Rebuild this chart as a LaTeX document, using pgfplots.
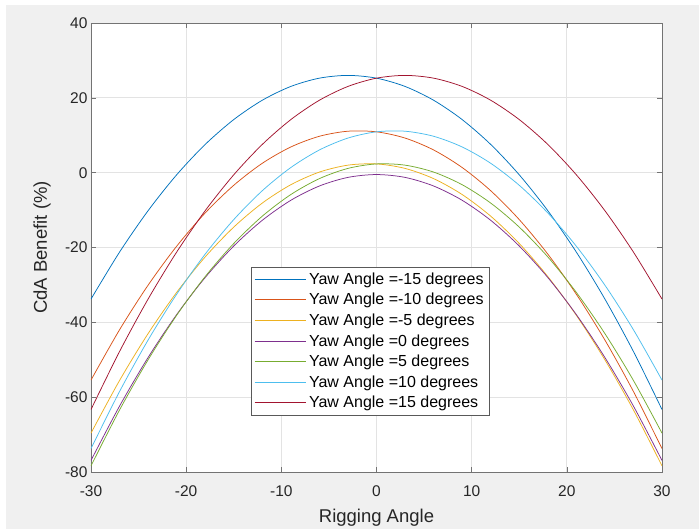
\documentclass[border=0pt]{standalone}
\usepackage{pgfplots}
\pgfplotsset{compat=1.18}
\usepackage{fontspec}
\setmainfont{Liberation Sans}
\definecolor{c1}{HTML}{0072BD}
\definecolor{c2}{HTML}{D95319}
\definecolor{c3}{HTML}{EDB120}
\definecolor{c4}{HTML}{7E2F8E}
\definecolor{c5}{HTML}{77AC30}
\definecolor{c6}{HTML}{4DBEEE}
\definecolor{c7}{HTML}{A2142F}
\definecolor{figbg}{HTML}{F0F0F0}
\definecolor{axcol}{HTML}{737373}
\definecolor{txtcol}{HTML}{262626}
\definecolor{legcol}{HTML}{595959}
\definecolor{gridcol}{HTML}{E3E3E3}
\begin{document}
\begin{tikzpicture}
\fill[white] (-91pt,-57pt) rectangle (608pt,472pt);
\fill[figbg] (-85pt,-57pt) rectangle (608pt,467pt);
\begin{axis}[
  at={(0pt,0pt)}, anchor=south west,
  scale only axis, width=571pt, height=449pt,
  xmin=-30, xmax=30, ymin=-80, ymax=40,
  xtick={-30,-20,...,30}, ytick={-80,-60,...,40},
  axis background/.style={fill=white},
  axis line style={axcol, line width=0.8pt},
  major tick style={axcol, line width=0.6pt},
  major tick length=5pt,
  tick align=inside,
  xtick pos=both, ytick pos=both,
  grid=major,
  major grid style={gridcol, line width=0.7pt},
  /pgf/number format/assume math mode=true,
  tick label style={font=\fontsize{15.5}{15.5}\selectfont, text=txtcol},
  xticklabel style={yshift=-10pt},
  xlabel={Rigging Angle}, ylabel={CdA Benefit (\%)},
  label style={font=\fontsize{18.5}{18.5}\selectfont, text=txtcol},
  xlabel style={at={(axis description cs:0.5,0)}, anchor=center, yshift=-46pt},
  ylabel style={at={([xshift=-49pt]axis description cs:0,0.5)}, anchor=center},
  legend cell align=left,
  legend image code/.code={\draw[#1, line width=1pt] (0pt,0pt) -- (51pt,0pt);},
  legend style={at={(0.280,0.457)}, anchor=north west, draw=legcol,
    fill=white, font=\fontsize{16}{16}\selectfont,
    nodes={inner ysep=3.75pt, inner xsep=3pt}},
  every axis plot/.append style={line width=0.75pt, smooth},
]
\addplot[c1] coordinates {(-30,-33.78) (-27,-21.23) (-24,-10.16) (-21,-0.57) (-18,7.55) (-15,14.19) (-12,19.36) (-9,23.05) (-6,25.26) (-3,26.00) (0,25.26) (3,23.05) (6,19.36) (9,14.19) (12,7.55) (15,-0.57) (18,-10.16) (21,-21.23) (24,-33.78) (27,-47.80) (30,-63.30)};
\addlegendentry{Yaw Angle =-15 degrees}
\addplot[c2] coordinates {(-30,-55.43) (-27,-41.99) (-24,-30.07) (-21,-19.66) (-18,-10.76) (-15,-3.37) (-12,2.51) (-9,6.87) (-6,9.73) (-3,11.08) (0,10.92) (3,9.25) (6,6.07) (9,1.38) (12,-4.82) (15,-12.54) (18,-21.76) (21,-32.49) (24,-44.73) (27,-58.49) (30,-73.75)};
\addlegendentry{Yaw Angle =-10 degrees}
\addplot[c3] coordinates {(-30,-69.61) (-27,-55.54) (-24,-43.01) (-21,-32.00) (-18,-22.51) (-15,-14.55) (-12,-8.12) (-9,-3.22) (-6,0.16) (-3,2.01) (0,2.34) (3,1.14) (6,-1.59) (9,-5.84) (12,-11.62) (15,-18.93) (18,-27.76) (21,-38.12) (24,-50.01) (27,-63.42) (30,-78.36)};
\addlegendentry{Yaw Angle =-5 degrees}
\addplot[c4] coordinates {(-30,-76.91) (-27,-62.39) (-24,-49.40) (-21,-37.94) (-18,-28.01) (-15,-19.60) (-12,-12.73) (-9,-7.38) (-6,-3.56) (-3,-1.26) (0,-0.50) (3,-1.26) (6,-3.56) (9,-7.38) (12,-12.73) (15,-19.60) (18,-28.01) (21,-37.94) (24,-49.40) (27,-62.39) (30,-76.91)};
\addlegendentry{Yaw Angle =0 degrees}
\addplot[c5] coordinates {(-30,-78.36) (-27,-63.42) (-24,-50.01) (-21,-38.12) (-18,-27.76) (-15,-18.93) (-12,-11.62) (-9,-5.84) (-6,-1.59) (-3,1.14) (0,2.34) (3,2.01) (6,0.16) (9,-3.22) (12,-8.12) (15,-14.55) (18,-22.51) (21,-32.00) (24,-43.01) (27,-55.54) (30,-69.61)};
\addlegendentry{Yaw Angle =5 degrees}
\addplot[c6] coordinates {(-30,-73.75) (-27,-58.49) (-24,-44.73) (-21,-32.49) (-18,-21.76) (-15,-12.54) (-12,-4.82) (-9,1.38) (-6,6.07) (-3,9.25) (0,10.92) (3,11.08) (6,9.73) (9,6.87) (12,2.51) (15,-3.37) (18,-10.76) (21,-19.66) (24,-30.07) (27,-41.99) (30,-55.43)};
\addlegendentry{Yaw Angle =10 degrees}
\addplot[c7] coordinates {(-30,-63.30) (-27,-47.80) (-24,-33.78) (-21,-21.23) (-18,-10.16) (-15,-0.57) (-12,7.55) (-9,14.19) (-6,19.36) (-3,23.05) (0,25.26) (3,26.00) (6,25.26) (9,23.05) (12,19.36) (15,14.19) (18,7.55) (21,-0.57) (24,-10.16) (27,-21.23) (30,-33.78)};
\addlegendentry{Yaw Angle =15 degrees}
\end{axis}
\end{tikzpicture}
\end{document}
